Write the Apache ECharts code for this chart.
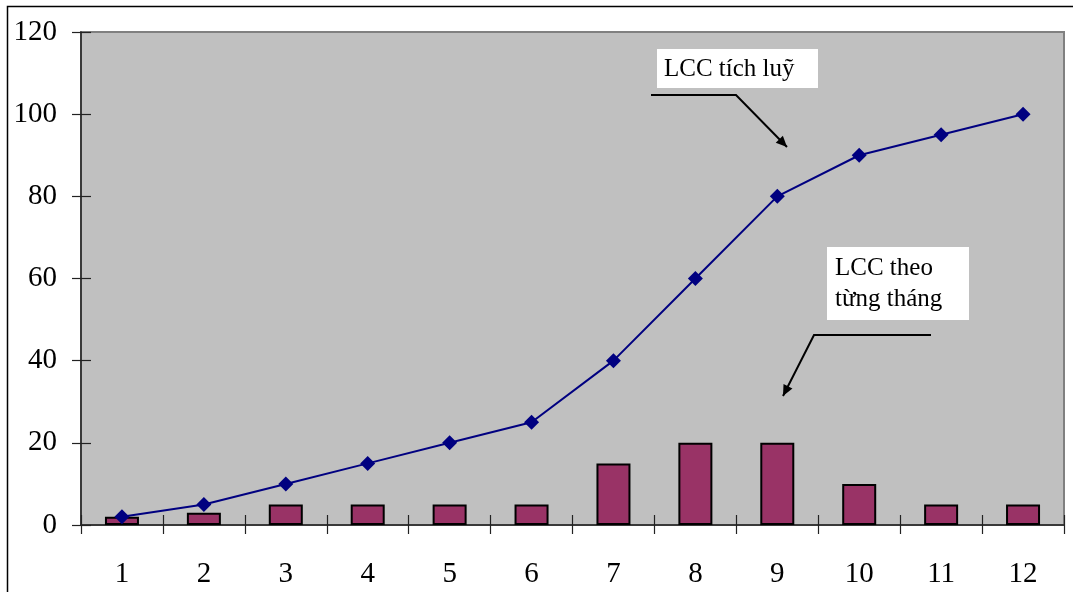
<!DOCTYPE html>
<html>
<head>
<meta charset="utf-8">
<script src="https://cdn.jsdelivr.net/npm/echarts@6/dist/echarts.min.js"></script>
<style>
html,body{margin:0;padding:0;background:#fff;}
#c{width:1073px;height:592px;}
</style>
</head>
<body>
<div id="c"></div>
<script>
var months = ['1','2','3','4','5','6','7','8','9','10','11','12'];
var monthly = [2, 3, 5, 5, 5, 5, 15, 20, 20, 10, 5, 5];
var cumulative = [2, 5, 10, 15, 20, 25, 40, 60, 80, 90, 95, 100];
var yTicks = [0, 20, 40, 60, 80, 100, 120];
var noteCumulative = 'LCC tích luỹ';
var noteMonthly = ['LCC theo', 'từng tháng'];

var FONT = '"Liberation Serif", "Times New Roman", serif';

function arrowHead(tip, from, len, half) {
  var dx = tip[0] - from[0], dy = tip[1] - from[1];
  var d = Math.sqrt(dx*dx + dy*dy);
  var ux = dx/d, uy = dy/d;
  var bx = tip[0] - ux*len, by = tip[1] - uy*len;
  return [tip, [bx - uy*half, by + ux*half], [bx + uy*half, by - ux*half]];
}

var a1 = [[651,95],[736,95],[787,147]];
var a2 = [[931,335],[814,335],[783,396]];

var chart = echarts.init(document.getElementById('c'));
chart.setOption({
  animation: false,
  backgroundColor: '#ffffff',
  grid: {left: 81, top: 32, right: 9, bottom: 67, show: true, backgroundColor: '#C0C0C0', borderColor: '#808080', borderWidth: 2},
  xAxis: [{
    type: 'category', data: months, position: 'bottom',
    axisLine: {lineStyle: {color: '#222', width: 1.5}},
    axisTick: {show: true, length: 9, lineStyle: {color: '#222', width: 1.2}},
    axisLabel: {fontFamily: FONT, fontSize: 29, color: '#000', margin: 35}
  }, {
    type: 'category', data: months, position: 'bottom',
    axisLine: {show: false},
    axisTick: {show: true, inside: true, length: 10, lineStyle: {color: '#222', width: 1.2}},
    axisLabel: {show: false}
  }],
  yAxis: [{
    type: 'value', min: 0, max: 120, interval: 20,
    axisLine: {show: true, lineStyle: {color: '#222', width: 1.5}},
    axisTick: {show: true, length: 9, lineStyle: {color: '#222', width: 1.2}},
    splitLine: {show: false},
    axisLabel: {fontFamily: FONT, fontSize: 29, color: '#000', margin: 24,
      formatter: function(v){ return yTicks.indexOf(v) >= 0 ? String(v) : ''; }}
  }, {
    type: 'value', min: 0, max: 120, interval: 20, position: 'left',
    axisLine: {show: false},
    axisTick: {show: true, inside: true, length: 10, lineStyle: {color: '#222', width: 1.2}},
    splitLine: {show: false},
    axisLabel: {show: false}
  }],
  series: [{
    type: 'bar', data: monthly, barWidth: 34,
    itemStyle: {color: '#993366', borderColor: '#000', borderWidth: 2}
  }, {
    type: 'line', data: cumulative,
    lineStyle: {color: '#000080', width: 2},
    symbol: 'diamond', symbolSize: 15,
    itemStyle: {color: '#000080', borderWidth: 0}
  }],
  graphic: [
    {type: 'polyline', shape: {points: [[7.5, 600],[7.5, 6.5],[1080, 6.5]]}, style: {stroke: '#000', lineWidth: 1.5, fill: null}, z: 100},
    {type: 'rect', shape: {x: 657, y: 49, width: 161, height: 39}, style: {fill: '#fff'}, z: 100},
    {type: 'text', x: 664, y: 69, style: {text: noteCumulative, font: '25px ' + FONT, fill: '#000', verticalAlign: 'middle'}, z: 101},
    {type: 'polyline', shape: {points: a1}, style: {stroke: '#000', lineWidth: 2, fill: null}, z: 100},
    {type: 'polygon', shape: {points: arrowHead(a1[2], a1[1], 11, 5)}, style: {fill: '#000'}, z: 100},
    {type: 'rect', shape: {x: 827, y: 247, width: 142, height: 73}, style: {fill: '#fff'}, z: 100},
    {type: 'text', x: 835, y: 268, style: {text: noteMonthly[0], font: '25px ' + FONT, fill: '#000', verticalAlign: 'middle'}, z: 101},
    {type: 'text', x: 835, y: 299, style: {text: noteMonthly[1], font: '25px ' + FONT, fill: '#000', verticalAlign: 'middle'}, z: 101},
    {type: 'polyline', shape: {points: a2}, style: {stroke: '#000', lineWidth: 2, fill: null}, z: 100},
    {type: 'polygon', shape: {points: arrowHead(a2[2], a2[1], 11, 5)}, style: {fill: '#000'}, z: 100}
  ]
});
</script>
</body>
</html>
